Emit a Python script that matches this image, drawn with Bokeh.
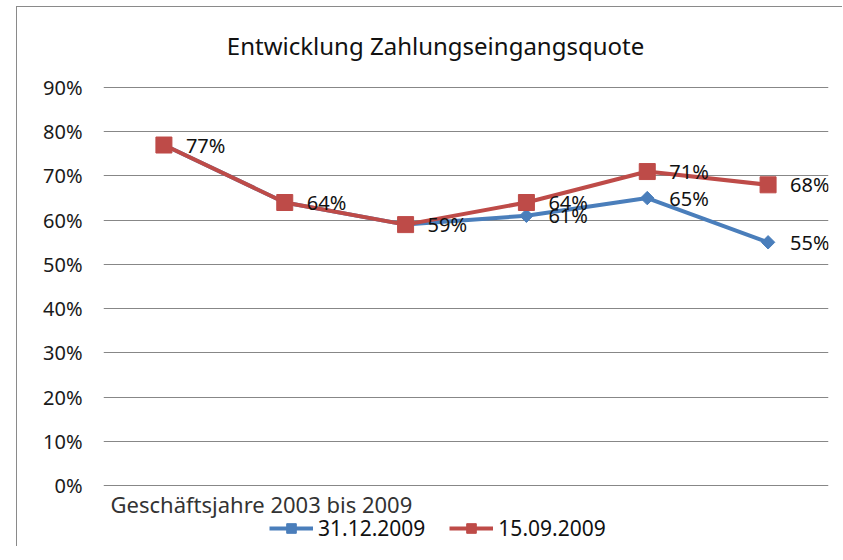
import numpy as np
from bokeh.plotting import figure
from bokeh.models import (Range1d, FixedTicker, Label, Legend, LegendItem,
                          ColumnDataSource, LabelSet, NumeralTickFormatter)
from bokeh.embed import file_html
from bokeh.resources import INLINE
from bokeh.core.properties import value

# ---- data ----
periods = [1, 2, 3, 4, 5, 6]
series_names = ["31.12.2009", "15.09.2009"]
blue_vals = [77, 64, 59, 61, 65, 55]
red_vals = [77, 64, 59, 64, 71, 68]
y_ticks = [0, 10, 20, 30, 40, 50, 60, 70, 80, 90]
title_text = "Entwicklung Zahlungseingangsquote"
x_title_text = "Geschäftsjahre 2003 bis 2009"

BLUE = "#4A7EBB"
RED = "#BE4B48"
FONT = "Noto Sans"

# frame extends above/below the value axis so title, axis title and legend
# sit inside it (annotations are clipped to the frame)
p = figure(width=826, height=540, output_backend="svg", toolbar_location=None,
           x_range=Range1d(0.5, 6.5), y_range=Range1d(-0.1357, 1.0697),
           min_border_left=86, min_border_right=15, min_border_top=5,
           min_border_bottom=2)
p.margin = (6, 0, 0, 16)
p.styles = {"border-left": "1px solid #8a8a8a", "border-top": "1px solid #8a8a8a"}
p.outline_line_color = None
p.background_fill_color = "white"
p.border_fill_color = "white"

p.xaxis.visible = False
p.xgrid.grid_line_color = None
p.ygrid.grid_line_color = "#878787"
p.ygrid.grid_line_width = 1

yax = p.yaxis[0]
yax.ticker = FixedTicker(ticks=[t / 100 for t in y_ticks])
p.ygrid.ticker = yax.ticker
yax.formatter = NumeralTickFormatter(format="0%")
yax.axis_line_color = None
yax.major_tick_line_color = None
yax.minor_tick_line_color = None
yax.major_tick_out = 0
yax.major_tick_in = 0
yax.major_label_standoff = 21
yax.major_label_text_font = FONT
yax.major_label_text_font_size = "20px"
yax.major_label_text_color = "#1a1a1a"

blue_src = ColumnDataSource(dict(x=periods, y=[v / 100 for v in blue_vals],
                                 lab=[f"{v}%" for v in blue_vals]))
red_src = ColumnDataSource(dict(x=periods, y=[v / 100 for v in red_vals],
                                lab=[f"{v}%" for v in red_vals]))
# blue labels only where they differ from red (identical ones overlap exactly)
diff_idx = [i for i in range(len(periods)) if blue_vals[i] != red_vals[i]]
blue_lab_src = ColumnDataSource(dict(x=[periods[i] for i in diff_idx],
                                     y=[blue_vals[i] / 100 for i in diff_idx],
                                     lab=[f"{blue_vals[i]}%" for i in diff_idx]))

bl = p.line("x", "y", source=blue_src, line_color=BLUE, line_width=4)
bm = p.scatter("x", "y", source=blue_src, marker="square", angle=np.pi / 4,
               size=9.5, fill_color=BLUE, line_color=BLUE)
rl = p.line("x", "y", source=red_src, line_color=RED, line_width=4)
rm = p.scatter("x", "y", source=red_src, marker="square", size=16,
               fill_color=RED, line_color=RED)

for src in (blue_lab_src, red_src):
    p.add_layout(LabelSet(x="x", y="y", text="lab", source=src, x_offset=22,
                          y_offset=0, text_baseline="middle",
                          text_font=value(FONT), text_font_size="20px",
                          text_color="#111111"))

p.add_layout(Label(x=3.248, y=0.996, text=title_text, text_align="center",
                   text_baseline="middle", text_font=FONT,
                   text_font_size="24px", text_color="#111111"))
p.add_layout(Label(x=0.558, y=-0.0425, text=x_title_text, text_align="left",
                   text_baseline="middle", text_font=FONT,
                   text_font_size="22px", text_color="#333333"))

legend = Legend(items=[LegendItem(label=series_names[0], renderers=[bl, bm]),
                       LegendItem(label=series_names[1], renderers=[rl, rm])],
                orientation="horizontal", location=(166, 3),
                glyph_width=44, glyph_height=24, label_standoff=5, spacing=24,
                padding=2, margin=0, border_line_color=None,
                background_fill_alpha=0,
                label_text_font=FONT, label_text_font_size="21px",
                label_text_color="#111111")
p.add_layout(legend)

open("out.html", "w").write(file_html(p, INLINE))
